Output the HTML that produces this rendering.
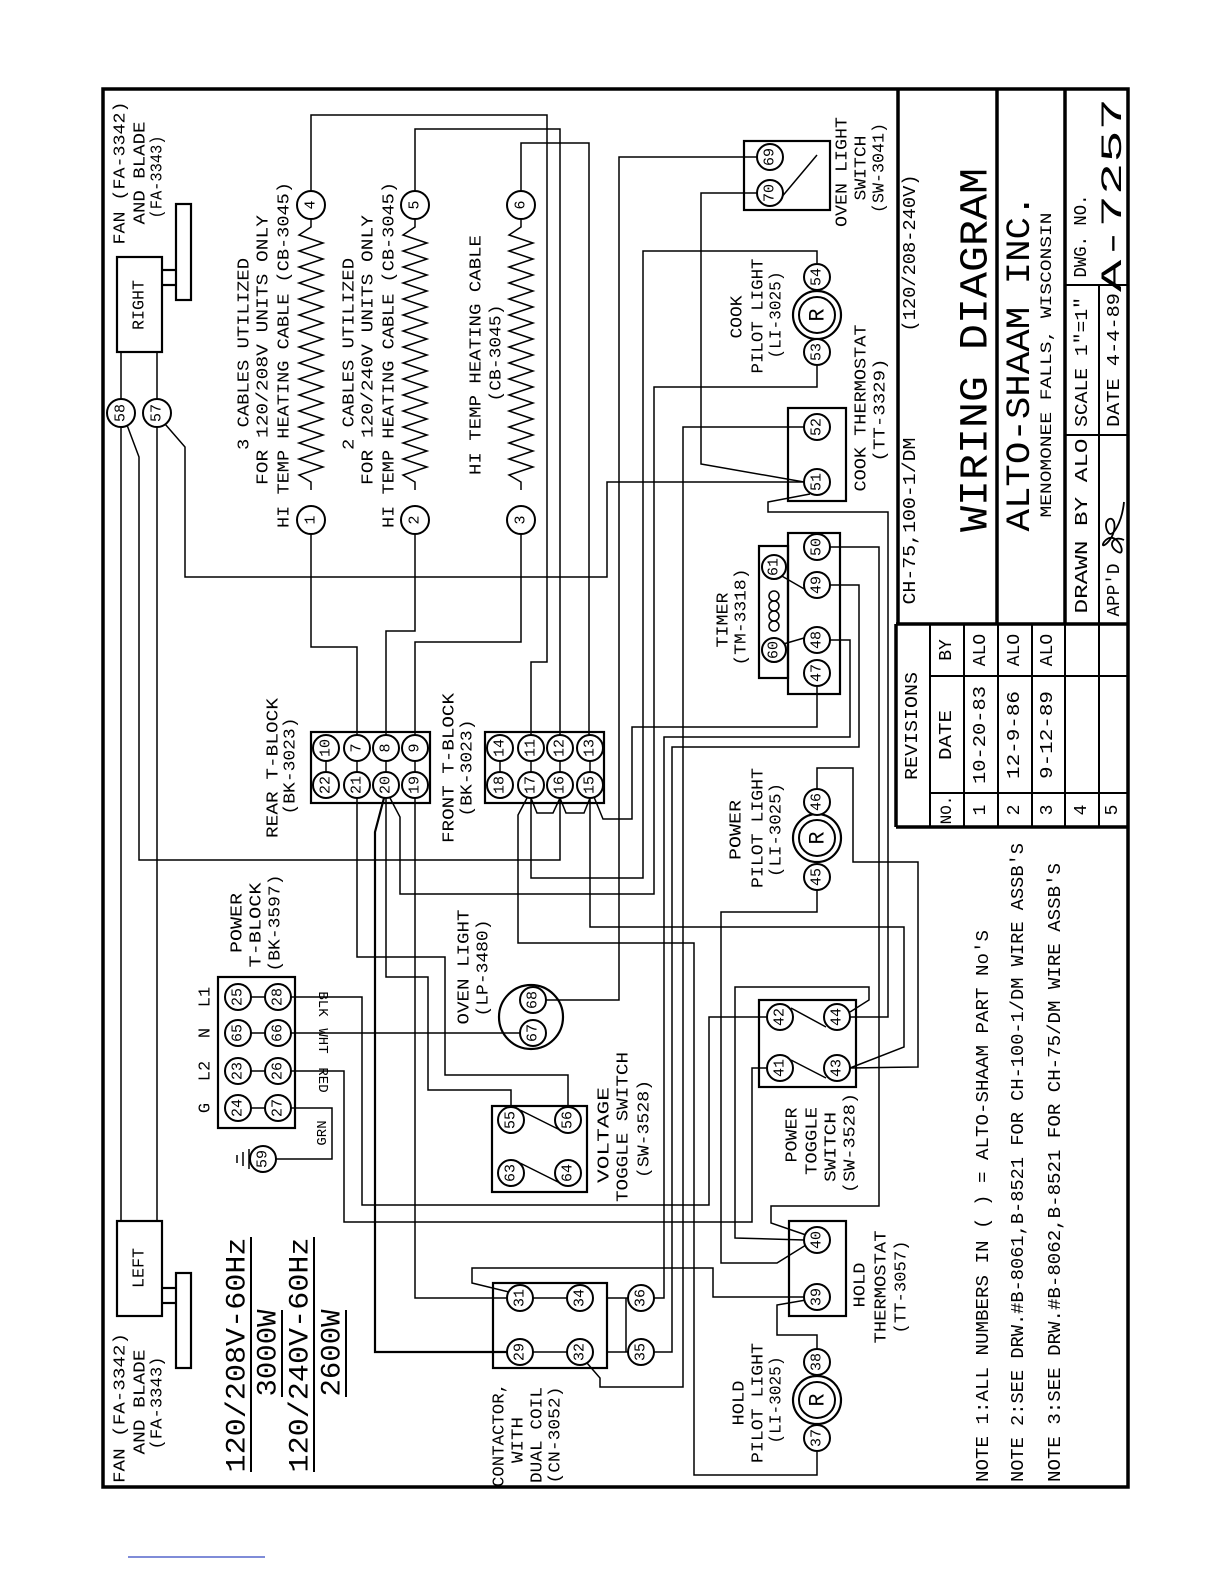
<!DOCTYPE html>
<html><head><meta charset="utf-8"><style>
html,body{margin:0;padding:0;background:#fff;}
svg{display:block;}
text{font-family:"Liberation Mono","DejaVu Sans Mono",monospace;fill:#000;}
.w{fill:none;stroke:#000;stroke-width:1.5;}
.b{fill:none;stroke:#000;stroke-width:2.2;}
.t{fill:#fff;stroke:#000;stroke-width:2;}
</style></head><body>
<svg width="1224" height="1584" viewBox="0 0 1224 1584" xmlns="http://www.w3.org/2000/svg">
<rect x="0" y="0" width="1224" height="1584" fill="#fff"/>
<rect x="103" y="89" width="1025" height="1398" fill="none" stroke="#000" stroke-width="3.5"/>
<line x1="128" y1="1557" x2="265" y2="1557" stroke="#5566cc" stroke-width="1.5"/>

<g class="w">
<polyline points="121,352 121,400"/><polyline points="157,352 157,400"/>
<polyline points="121,426 121,1221"/><polyline points="157,426 157,1221"/>
<polyline points="127,425 139,457 139,860 560,860 560,798"/>
<polyline points="165,424 185,447 185,577 607,577 607,482 804,482"/>
<polyline points="311,191 311,115 547,115 547,662 531,662 531,735"/>
<polyline points="415,191 415,129 560,129 560,735"/>
<polyline points="521,191 521,143 589,143 589,735"/>
<polyline points="311,534 311,647 357,647 357,735"/>
<polyline points="415,534 415,631 386,631 386,735"/>
<polyline points="521,534 521,642 415,642 415,735"/>
<polyline points="357,798 357,957 445,957 445,1075 568,1075 568,1107"/>
<polyline points="386,798 386,977 428,977 428,1090 511,1090 511,1107"/>
<polyline points="384,798 375,832 375,1352 507,1352" style="stroke-width:2.2"/>
<polyline points="390,798 400,817 400,894 654,894 654,387 817,387 817,366"/>
<polyline points="415,798 415,1298 507,1298"/>
<polyline points="531,798 531,878 643,878 643,251 817,251 817,263"/>
<polyline points="527,798 518,815 518,943 694,943 694,1475 817,1475 817,1452"/>
<polyline points="590,798 590,927 904,927 904,1047 850,1068"/>
<polyline points="594,797 603,819 632,819 632,727 817,727 817,687"/>
<polyline points="531,798 537,813 553,813 560,798"/>
<polyline points="560,798 566,813 584,813 590,798"/>
<polyline points="291,997 362,997 362,1205 709,1205 709,1017 767,1017"/>
<polyline points="291,1033 520,1033"/>
<polyline points="291,1071 344,1071 344,1222 752,1222 752,1068 767,1068"/>
<polyline points="291,1108 332,1108 332,1159 276,1159"/>
<polyline points="546,1000 619,1000 619,157 757,157"/>
<polyline points="757,193 701,193 701,464 804,482"/>
<polyline points="775,205 817,155"/>
<polyline points="804,427 683,427 683,1387 600,1387 600,1378 587,1363"/>
<polyline points="810,494 768,502 768,512 888,512 888,1017 850,1017"/>
<polyline points="830,547 879,547 879,1206 771,1206 771,1223 806,1235"/>
<polyline points="830,585 859,585 859,747 672,747 672,1352 654,1352"/>
<polyline points="830,640 850,640 850,737 664,737 664,1298 654,1298"/>
<polyline points="780,575 806,590"/><polyline points="780,645 804,638"/>
<polyline points="817,789 817,768 853,768 853,862 918,862 918,1067 850,1068"/>
<polyline points="817,890 817,912 721,912 721,1263 777,1263 806,1245"/>
<polyline points="850,1012 869,1000 869,987 735,987 735,1238 804,1240"/>
<polyline points="791,1008 826,1027"/><polyline points="791,1060 826,1078"/>
<polyline points="520,1110 560,1130"/><polyline points="520,1163 560,1183"/>
<polyline points="804,1297 713,1297 713,1268 472,1268 472,1283 509,1292"/>
<polyline points="817,1349 817,1335 777,1335 777,1305 806,1300"/>
<polyline points="533,1298 567,1298"/><polyline points="533,1352 567,1352"/>
<polyline points="607,1298 628,1298"/><polyline points="607,1352 628,1352"/>
<polyline points="626,1298 626,1352"/>
<polyline points="326,761 326,772"/><polyline points="357,761 357,772"/><polyline points="386,761 386,772"/><polyline points="415,761 415,772"/>
<polyline points="500,761 500,772"/><polyline points="531,761 531,772"/><polyline points="560,761 560,772"/><polyline points="590,761 590,772"/>
<polyline points="251,997 265,997"/><polyline points="251,1033 265,1033"/><polyline points="251,1071 265,1071"/><polyline points="251,1108 265,1108"/>
<path d="M311,219 l0,8 l-12,8 l24,8 l-24,8 l24,8 l-24,8 l24,8 l-24,8 l24,8 l-24,8 l24,8 l-24,8 l24,8 l-24,8 l24,8 l-24,8 l24,8 l-24,8 l24,8 l-24,8 l24,8 l-24,8 l24,8 l-24,8 l24,8 l-24,8 l24,8 l-24,8 l24,8 l-24,8 l24,8 l-24,8 l12,7 l0,8"/>
<path d="M415,219 l0,8 l-12,8 l24,8 l-24,8 l24,8 l-24,8 l24,8 l-24,8 l24,8 l-24,8 l24,8 l-24,8 l24,8 l-24,8 l24,8 l-24,8 l24,8 l-24,8 l24,8 l-24,8 l24,8 l-24,8 l24,8 l-24,8 l24,8 l-24,8 l24,8 l-24,8 l24,8 l-24,8 l24,8 l-24,8 l12,7 l0,8"/>
<path d="M521,219 l0,8 l-12,8 l24,8 l-24,8 l24,8 l-24,8 l24,8 l-24,8 l24,8 l-24,8 l24,8 l-24,8 l24,8 l-24,8 l24,8 l-24,8 l24,8 l-24,8 l24,8 l-24,8 l24,8 l-24,8 l24,8 l-24,8 l24,8 l-24,8 l24,8 l-24,8 l24,8 l-24,8 l24,8 l-24,8 l12,7 l0,8"/>
<line x1="249" y1="1149" x2="249" y2="1169"/><line x1="243" y1="1152" x2="243" y2="1166"/><line x1="237" y1="1155" x2="237" y2="1163"/>
</g>

<g class="b">
<rect x="117" y="257" width="45" height="95"/><rect x="176" y="204" width="15" height="96"/>
<line x1="162" y1="270" x2="176" y2="270"/><line x1="162" y1="285" x2="176" y2="285"/>
<rect x="117" y="1221" width="45" height="95"/><rect x="176" y="1273" width="15" height="95"/>
<line x1="162" y1="1288" x2="176" y2="1288"/><line x1="162" y1="1303" x2="176" y2="1303"/>
<rect x="311" y="732" width="119" height="71"/>
<rect x="485" y="732" width="119" height="71"/>
<rect x="218" y="977" width="77" height="151"/>
<rect x="492" y="1106" width="95" height="86"/>
<rect x="493" y="1283" width="114" height="85"/>
<rect x="744" y="141" width="86" height="69"/>
<rect x="788" y="408" width="58" height="93"/>
<rect x="788" y="533" width="52" height="161"/>
<rect x="759" y="546" width="29" height="132"/>
<rect x="759" y="1000" width="97" height="87"/>
<rect x="789" y="1221" width="57" height="95"/>
<circle cx="531" cy="1017" r="32"/>
<circle cx="817" cy="315" r="24"/><circle cx="817" cy="838" r="24"/><circle cx="817" cy="1400" r="24"/>
</g>
<g class="w" fill="none">
<circle cx="774" cy="596" r="5"/><circle cx="774" cy="606" r="5"/><circle cx="774" cy="616" r="5"/><circle cx="774" cy="626" r="5"/>
</g>

<g>
<g class="t">
<circle cx="121" cy="413" r="14"/><circle cx="157" cy="413" r="14"/>
<circle cx="311" cy="205" r="14"/><circle cx="415" cy="205" r="14"/><circle cx="521" cy="205" r="14"/>
<circle cx="311" cy="520" r="14"/><circle cx="415" cy="520" r="14"/><circle cx="521" cy="520" r="14"/>
<circle cx="326" cy="748" r="13"/><circle cx="357" cy="748" r="13"/><circle cx="386" cy="748" r="13"/><circle cx="415" cy="748" r="13"/>
<circle cx="326" cy="785" r="13"/><circle cx="357" cy="785" r="13"/><circle cx="386" cy="785" r="13"/><circle cx="415" cy="785" r="13"/>
<circle cx="500" cy="748" r="13"/><circle cx="531" cy="748" r="13"/><circle cx="560" cy="748" r="13"/><circle cx="590" cy="748" r="13"/>
<circle cx="500" cy="785" r="13"/><circle cx="531" cy="785" r="13"/><circle cx="560" cy="785" r="13"/><circle cx="590" cy="785" r="13"/>
<circle cx="238" cy="997" r="13"/><circle cx="278" cy="997" r="13"/><circle cx="238" cy="1033" r="13"/><circle cx="278" cy="1033" r="13"/>
<circle cx="238" cy="1071" r="13"/><circle cx="278" cy="1071" r="13"/><circle cx="238" cy="1108" r="13"/><circle cx="278" cy="1108" r="13"/>
<circle cx="263" cy="1159" r="13"/>
<circle cx="533" cy="1000" r="13"/><circle cx="533" cy="1033" r="13"/>
<circle cx="511" cy="1120" r="13"/><circle cx="568" cy="1120" r="13"/><circle cx="511" cy="1173" r="13"/><circle cx="568" cy="1173" r="13"/>
<circle cx="520" cy="1298" r="13"/><circle cx="580" cy="1298" r="13"/><circle cx="641" cy="1298" r="13"/>
<circle cx="520" cy="1352" r="13"/><circle cx="580" cy="1352" r="13"/><circle cx="641" cy="1352" r="13"/>
<circle cx="770" cy="157" r="13"/><circle cx="770" cy="193" r="13"/>
<circle cx="817" cy="277" r="13"/><circle cx="817" cy="352" r="13"/><circle cx="817" cy="315" r="18"/>
<circle cx="817" cy="427" r="13"/><circle cx="817" cy="482" r="13"/>
<circle cx="817" cy="547" r="13"/><circle cx="817" cy="585" r="13"/><circle cx="774" cy="567" r="12"/>
<circle cx="817" cy="640" r="13"/><circle cx="817" cy="673" r="13"/><circle cx="774" cy="650" r="12"/>
<circle cx="817" cy="802" r="13"/><circle cx="817" cy="877" r="13"/><circle cx="817" cy="838" r="18"/>
<circle cx="780" cy="1017" r="13"/><circle cx="837" cy="1017" r="13"/><circle cx="780" cy="1068" r="13"/><circle cx="837" cy="1068" r="13"/>
<circle cx="817" cy="1240" r="13"/><circle cx="817" cy="1297" r="13"/>
<circle cx="817" cy="1362" r="13"/><circle cx="817" cy="1438" r="13"/><circle cx="817" cy="1400" r="18"/>
</g>
<g font-size="15" text-anchor="middle" dominant-baseline="central">
<text transform="translate(121,413) rotate(-90)">58</text><text transform="translate(157,413) rotate(-90)">57</text>
<text transform="translate(311,205) rotate(-90)">4</text><text transform="translate(415,205) rotate(-90)">5</text><text transform="translate(521,205) rotate(-90)">6</text>
<text transform="translate(311,520) rotate(-90)">1</text><text transform="translate(415,520) rotate(-90)">2</text><text transform="translate(521,520) rotate(-90)">3</text>
<text transform="translate(326,748) rotate(-90)">10</text><text transform="translate(357,748) rotate(-90)">7</text><text transform="translate(386,748) rotate(-90)">8</text><text transform="translate(415,748) rotate(-90)">9</text>
<text transform="translate(326,785) rotate(-90)">22</text><text transform="translate(357,785) rotate(-90)">21</text><text transform="translate(386,785) rotate(-90)">20</text><text transform="translate(415,785) rotate(-90)">19</text>
<text transform="translate(500,748) rotate(-90)">14</text><text transform="translate(531,748) rotate(-90)">11</text><text transform="translate(560,748) rotate(-90)">12</text><text transform="translate(590,748) rotate(-90)">13</text>
<text transform="translate(500,785) rotate(-90)">18</text><text transform="translate(531,785) rotate(-90)">17</text><text transform="translate(560,785) rotate(-90)">16</text><text transform="translate(590,785) rotate(-90)">15</text>
<text transform="translate(238,997) rotate(-90)">25</text><text transform="translate(278,997) rotate(-90)">28</text>
<text transform="translate(238,1033) rotate(-90)">65</text><text transform="translate(278,1033) rotate(-90)">66</text>
<text transform="translate(238,1071) rotate(-90)">23</text><text transform="translate(278,1071) rotate(-90)">26</text>
<text transform="translate(238,1108) rotate(-90)">24</text><text transform="translate(278,1108) rotate(-90)">27</text>
<text transform="translate(263,1159) rotate(-90)">59</text>
<text transform="translate(533,1000) rotate(-90)">68</text><text transform="translate(533,1033) rotate(-90)">67</text>
<text transform="translate(511,1120) rotate(-90)">55</text><text transform="translate(568,1120) rotate(-90)">56</text>
<text transform="translate(511,1173) rotate(-90)">63</text><text transform="translate(568,1173) rotate(-90)">64</text>
<text transform="translate(520,1298) rotate(-90)">31</text><text transform="translate(580,1298) rotate(-90)">34</text><text transform="translate(641,1298) rotate(-90)">36</text>
<text transform="translate(520,1352) rotate(-90)">29</text><text transform="translate(580,1352) rotate(-90)">32</text><text transform="translate(641,1352) rotate(-90)">35</text>
<text transform="translate(770,157) rotate(-90)">69</text><text transform="translate(770,193) rotate(-90)">70</text>
<text transform="translate(817,277) rotate(-90)">54</text><text transform="translate(817,352) rotate(-90)">53</text>
<text transform="translate(817,427) rotate(-90)">52</text><text transform="translate(817,482) rotate(-90)">51</text>
<text transform="translate(817,547) rotate(-90)">50</text><text transform="translate(817,585) rotate(-90)">49</text><text transform="translate(774,567) rotate(-90)">61</text>
<text transform="translate(817,640) rotate(-90)">48</text><text transform="translate(817,673) rotate(-90)">47</text><text transform="translate(774,650) rotate(-90)">60</text>
<text transform="translate(817,802) rotate(-90)">46</text><text transform="translate(817,877) rotate(-90)">45</text>
<text transform="translate(780,1017) rotate(-90)">42</text><text transform="translate(837,1017) rotate(-90)">44</text>
<text transform="translate(780,1068) rotate(-90)">41</text><text transform="translate(837,1068) rotate(-90)">43</text>
<text transform="translate(817,1240) rotate(-90)">40</text><text transform="translate(817,1297) rotate(-90)">39</text>
<text transform="translate(817,1362) rotate(-90)">38</text><text transform="translate(817,1438) rotate(-90)">37</text>
</g>
<g font-size="22" text-anchor="middle" dominant-baseline="central">
<text transform="translate(818,315) rotate(-90)">R</text><text transform="translate(818,838) rotate(-90)">R</text><text transform="translate(818,1400) rotate(-90)">R</text>
</g>
</g>

<g font-size="17" text-anchor="middle" dominant-baseline="central">
<text transform="translate(121,173) rotate(-90)" textLength="143" lengthAdjust="spacingAndGlyphs">FAN (FA-3342)</text>
<text transform="translate(141,173) rotate(-90)" textLength="103" lengthAdjust="spacingAndGlyphs">AND BLADE</text>
<text transform="translate(158,177) rotate(-90)" textLength="83" lengthAdjust="spacingAndGlyphs">(FA-3343)</text>
<text transform="translate(121,1408) rotate(-90)" textLength="150" lengthAdjust="spacingAndGlyphs">FAN (FA-3342)</text>
<text transform="translate(141,1402) rotate(-90)" textLength="105" lengthAdjust="spacingAndGlyphs">AND BLADE</text>
<text transform="translate(158,1403) rotate(-90)" textLength="93" lengthAdjust="spacingAndGlyphs">(FA-3343)</text>
<text transform="translate(140,305) rotate(-90)" textLength="50" lengthAdjust="spacingAndGlyphs">RIGHT</text>
<text transform="translate(140,1268) rotate(-90)" textLength="40" lengthAdjust="spacingAndGlyphs">LEFT</text>

<text transform="translate(245,354) rotate(-90)" textLength="192" lengthAdjust="spacingAndGlyphs">3 CABLES UTILIZED</text>
<text transform="translate(264,350) rotate(-90)" textLength="270" lengthAdjust="spacingAndGlyphs">FOR 120/208V UNITS ONLY</text>
<text transform="translate(285,355) rotate(-90)" textLength="346" lengthAdjust="spacingAndGlyphs">HI TEMP HEATING CABLE (CB-3045)</text>
<text transform="translate(350,354) rotate(-90)" textLength="192" lengthAdjust="spacingAndGlyphs">2 CABLES UTILIZED</text>
<text transform="translate(369,350) rotate(-90)" textLength="270" lengthAdjust="spacingAndGlyphs">FOR 120/240V UNITS ONLY</text>
<text transform="translate(390,355) rotate(-90)" textLength="346" lengthAdjust="spacingAndGlyphs">HI TEMP HEATING CABLE (CB-3045)</text>
<text transform="translate(477,355) rotate(-90)" textLength="240" lengthAdjust="spacingAndGlyphs">HI TEMP HEATING CABLE</text>
<text transform="translate(497,353) rotate(-90)" textLength="97" lengthAdjust="spacingAndGlyphs">(CB-3045)</text>

<text transform="translate(274,768) rotate(-90)" textLength="140" lengthAdjust="spacingAndGlyphs">REAR T-BLOCK</text>
<text transform="translate(291,766) rotate(-90)" textLength="97" lengthAdjust="spacingAndGlyphs">(BK-3023)</text>
<text transform="translate(450,768) rotate(-90)" textLength="150" lengthAdjust="spacingAndGlyphs">FRONT T-BLOCK</text>
<text transform="translate(468,768) rotate(-90)" textLength="97" lengthAdjust="spacingAndGlyphs">(BK-3023)</text>

<text transform="translate(238,923) rotate(-90)" textLength="60" lengthAdjust="spacingAndGlyphs">POWER</text>
<text transform="translate(257,925) rotate(-90)" textLength="85" lengthAdjust="spacingAndGlyphs">T-BLOCK</text>
<text transform="translate(276,923) rotate(-90)" textLength="97" lengthAdjust="spacingAndGlyphs">(BK-3597)</text>
<text transform="translate(206,997) rotate(-90)">L1</text>
<text transform="translate(206,1033) rotate(-90)">N</text>
<text transform="translate(206,1071) rotate(-90)">L2</text>
<text transform="translate(206,1108) rotate(-90)">G</text>
<text transform="translate(323,1133) rotate(-90)" font-size="14">GRN</text>
<text transform="translate(322,1004) rotate(90)" font-size="14">BLK</text>
<text transform="translate(322,1041) rotate(90)" font-size="14">WHT</text>
<text transform="translate(322,1080) rotate(90)" font-size="14">RED</text>

<text transform="translate(465,967) rotate(-90)" textLength="115" lengthAdjust="spacingAndGlyphs">OVEN LIGHT</text>
<text transform="translate(484,968) rotate(-90)" textLength="97" lengthAdjust="spacingAndGlyphs">(LP-3480)</text>

<text transform="translate(605,1135) rotate(-90)" textLength="96" lengthAdjust="spacingAndGlyphs">VOLTAGE</text>
<text transform="translate(624,1127) rotate(-90)" textLength="150" lengthAdjust="spacingAndGlyphs">TOGGLE SWITCH</text>
<text transform="translate(645,1129) rotate(-90)" textLength="98" lengthAdjust="spacingAndGlyphs">(SW-3528)</text>

<text transform="translate(500,1435) rotate(-90)" textLength="104" lengthAdjust="spacingAndGlyphs">CONTACTOR,</text>
<text transform="translate(519,1440) rotate(-90)" textLength="46" lengthAdjust="spacingAndGlyphs">WITH</text>
<text transform="translate(538,1435) rotate(-90)" textLength="96" lengthAdjust="spacingAndGlyphs">DUAL COIL</text>
<text transform="translate(556,1435) rotate(-90)" textLength="97" lengthAdjust="spacingAndGlyphs">(CN-3052)</text>

<text transform="translate(724,620) rotate(-90)" textLength="55" lengthAdjust="spacingAndGlyphs">TIMER</text>
<text transform="translate(742,617) rotate(-90)" textLength="97" lengthAdjust="spacingAndGlyphs">(TM-3318)</text>

<text transform="translate(738,317) rotate(-90)" textLength="43" lengthAdjust="spacingAndGlyphs">COOK</text>
<text transform="translate(759,316) rotate(-90)" textLength="115" lengthAdjust="spacingAndGlyphs">PILOT LIGHT</text>
<text transform="translate(777,315) rotate(-90)" textLength="87" lengthAdjust="spacingAndGlyphs">(LI-3025)</text>

<text transform="translate(862,408) rotate(-90)" textLength="167" lengthAdjust="spacingAndGlyphs">COOK THERMOSTAT</text>
<text transform="translate(881,410) rotate(-90)" textLength="103" lengthAdjust="spacingAndGlyphs">(TT-3329)</text>

<text transform="translate(843,172) rotate(-90)" textLength="110" lengthAdjust="spacingAndGlyphs">OVEN LIGHT</text>
<text transform="translate(862,168) rotate(-90)" textLength="65" lengthAdjust="spacingAndGlyphs">SWITCH</text>
<text transform="translate(880,168) rotate(-90)" textLength="90" lengthAdjust="spacingAndGlyphs">(SW-3041)</text>

<text transform="translate(737,830) rotate(-90)" textLength="60" lengthAdjust="spacingAndGlyphs">POWER</text>
<text transform="translate(759,828) rotate(-90)" textLength="120" lengthAdjust="spacingAndGlyphs">PILOT LIGHT</text>
<text transform="translate(777,830) rotate(-90)" textLength="94" lengthAdjust="spacingAndGlyphs">(LI-3025)</text>

<text transform="translate(793,1135) rotate(-90)" textLength="55" lengthAdjust="spacingAndGlyphs">POWER</text>
<text transform="translate(813,1141) rotate(-90)" textLength="68" lengthAdjust="spacingAndGlyphs">TOGGLE</text>
<text transform="translate(832,1147) rotate(-90)" textLength="70" lengthAdjust="spacingAndGlyphs">SWITCH</text>
<text transform="translate(851,1143) rotate(-90)" textLength="100" lengthAdjust="spacingAndGlyphs">(SW-3528)</text>

<text transform="translate(861,1285) rotate(-90)" textLength="45" lengthAdjust="spacingAndGlyphs">HOLD</text>
<text transform="translate(882,1287) rotate(-90)" textLength="113" lengthAdjust="spacingAndGlyphs">THERMOSTAT</text>
<text transform="translate(902,1287) rotate(-90)" textLength="93" lengthAdjust="spacingAndGlyphs">(TT-3057)</text>

<text transform="translate(740,1403) rotate(-90)" textLength="45" lengthAdjust="spacingAndGlyphs">HOLD</text>
<text transform="translate(759,1403) rotate(-90)" textLength="120" lengthAdjust="spacingAndGlyphs">PILOT LIGHT</text>
<text transform="translate(777,1400) rotate(-90)" textLength="87" lengthAdjust="spacingAndGlyphs">(LI-3025)</text>
</g>

<g font-size="28" text-anchor="middle" dominant-baseline="central">
<text transform="translate(238,1355) rotate(-90)" textLength="235" lengthAdjust="spacingAndGlyphs">120/208V-60Hz</text>
<text transform="translate(269,1353) rotate(-90)" textLength="87" lengthAdjust="spacingAndGlyphs">3000W</text>
<text transform="translate(301,1355) rotate(-90)" textLength="235" lengthAdjust="spacingAndGlyphs">120/240V-60Hz</text>
<text transform="translate(333,1353) rotate(-90)" textLength="87" lengthAdjust="spacingAndGlyphs">2600W</text>
</g>
<g stroke="#000" stroke-width="2">
<line x1="251" y1="1237" x2="251" y2="1472"/><line x1="282" y1="1310" x2="282" y2="1397"/>
<line x1="314" y1="1237" x2="314" y2="1472"/><line x1="346" y1="1310" x2="346" y2="1397"/>
</g>

<g font-size="18" dominant-baseline="central">
<text transform="translate(984,1482) rotate(-90)" textLength="552" lengthAdjust="spacingAndGlyphs">NOTE 1:ALL NUMBERS IN ( ) = ALTO-SHAAM PART No'S</text>
<text transform="translate(1019,1482) rotate(-90)" textLength="639" lengthAdjust="spacingAndGlyphs">NOTE 2:SEE DRW.#B-8061,B-8521 FOR CH-100-1/DM WIRE ASSB'S</text>
<text transform="translate(1056,1482) rotate(-90)" textLength="619" lengthAdjust="spacingAndGlyphs">NOTE 3:SEE DRW.#B-8062,B-8521 FOR CH-75/DM WIRE ASSB'S</text>
</g>

<g stroke="#000" fill="none">
<line x1="898" y1="89" x2="898" y2="624" stroke-width="3.5"/>
<line x1="896" y1="624" x2="1128" y2="624" stroke-width="3.5"/>
<line x1="997" y1="89" x2="997" y2="624" stroke-width="3.5"/>
<line x1="1065" y1="89" x2="1065" y2="624" stroke-width="3.5"/>
<line x1="1065" y1="285" x2="1128" y2="285" stroke-width="2"/>
<line x1="1065" y1="435" x2="1128" y2="435" stroke-width="2"/>
<line x1="1099" y1="285" x2="1099" y2="624" stroke-width="2"/>
<line x1="896" y1="624" x2="896" y2="827" stroke-width="3.5"/>
<line x1="896" y1="827" x2="1128" y2="827" stroke-width="3.5"/>
<line x1="930" y1="624" x2="930" y2="827" stroke-width="2"/>
<line x1="964" y1="624" x2="964" y2="827" stroke-width="2"/>
<line x1="998" y1="624" x2="998" y2="827" stroke-width="2"/>
<line x1="1032" y1="624" x2="1032" y2="827" stroke-width="2"/>
<line x1="1065" y1="624" x2="1065" y2="827" stroke-width="2"/>
<line x1="1099" y1="624" x2="1099" y2="827" stroke-width="2"/>
<line x1="930" y1="676" x2="1128" y2="676" stroke-width="2"/>
<line x1="930" y1="793" x2="1128" y2="793" stroke-width="2"/>
<path d="M1124,540 c-10,-5 -18,5 -6,12 c10,5 -2,-25 -14,-10 c-6,10 14,-4 10,-20 c-3,-8 -12,0 -6,10 c4,8 14,-10 16,-30" stroke-width="1.8"/>
</g>
<g text-anchor="middle" dominant-baseline="central" font-size="18">
<text transform="translate(911,521) rotate(-90)" textLength="167" lengthAdjust="spacingAndGlyphs">CH-75,100-1/DM</text>
<text transform="translate(911,253) rotate(-90)" textLength="157" lengthAdjust="spacingAndGlyphs">(120/208-240V)</text>
<text transform="translate(977,350) rotate(-90)" font-size="40" textLength="364" lengthAdjust="spacingAndGlyphs">WIRING DIAGRAM</text>
<text transform="translate(1021,363) rotate(-90)" font-size="34" textLength="337" lengthAdjust="spacingAndGlyphs">ALTO-SHAAM INC.</text>
<text transform="translate(1047,365) rotate(-90)" font-size="16" textLength="305" lengthAdjust="spacingAndGlyphs">MENOMONEE FALLS, WISCONSIN</text>
<text transform="translate(1083,526) rotate(-90)" textLength="175" lengthAdjust="spacingAndGlyphs">DRAWN BY ALO</text>
<text transform="translate(1083,362) rotate(-90)" textLength="130" lengthAdjust="spacingAndGlyphs">SCALE 1"=1"</text>
<text transform="translate(1082,236) rotate(-90)" textLength="83" lengthAdjust="spacingAndGlyphs">DWG. NO.</text>
<text transform="translate(1115,590) rotate(-90)" textLength="53" lengthAdjust="spacingAndGlyphs">APP'D</text>
<text transform="translate(1115,360) rotate(-90)" textLength="134" lengthAdjust="spacingAndGlyphs">DATE 4-4-89</text>
<text transform="translate(1114,195) rotate(-90)" font-size="30" textLength="194" lengthAdjust="spacingAndGlyphs">A-7257</text>

<text transform="translate(913,726) rotate(-90)" textLength="108" lengthAdjust="spacingAndGlyphs">REVISIONS</text>
<text transform="translate(947,810) rotate(-90)" font-size="16">NO.</text>
<text transform="translate(947,735) rotate(-90)" textLength="50" lengthAdjust="spacingAndGlyphs">DATE</text>
<text transform="translate(947,650) rotate(-90)">BY</text>
<text transform="translate(981,810) rotate(-90)">1</text>
<text transform="translate(981,735) rotate(-90)" textLength="98" lengthAdjust="spacingAndGlyphs">10-20-83</text>
<text transform="translate(981,650) rotate(-90)">ALO</text>
<text transform="translate(1015,810) rotate(-90)">2</text>
<text transform="translate(1015,735) rotate(-90)" textLength="88" lengthAdjust="spacingAndGlyphs">12-9-86</text>
<text transform="translate(1015,650) rotate(-90)">ALO</text>
<text transform="translate(1048,810) rotate(-90)">3</text>
<text transform="translate(1048,735) rotate(-90)" textLength="88" lengthAdjust="spacingAndGlyphs">9-12-89</text>
<text transform="translate(1048,650) rotate(-90)">ALO</text>
<text transform="translate(1082,810) rotate(-90)">4</text>
<text transform="translate(1113,810) rotate(-90)">5</text>
</g>
</svg>
</body></html>
